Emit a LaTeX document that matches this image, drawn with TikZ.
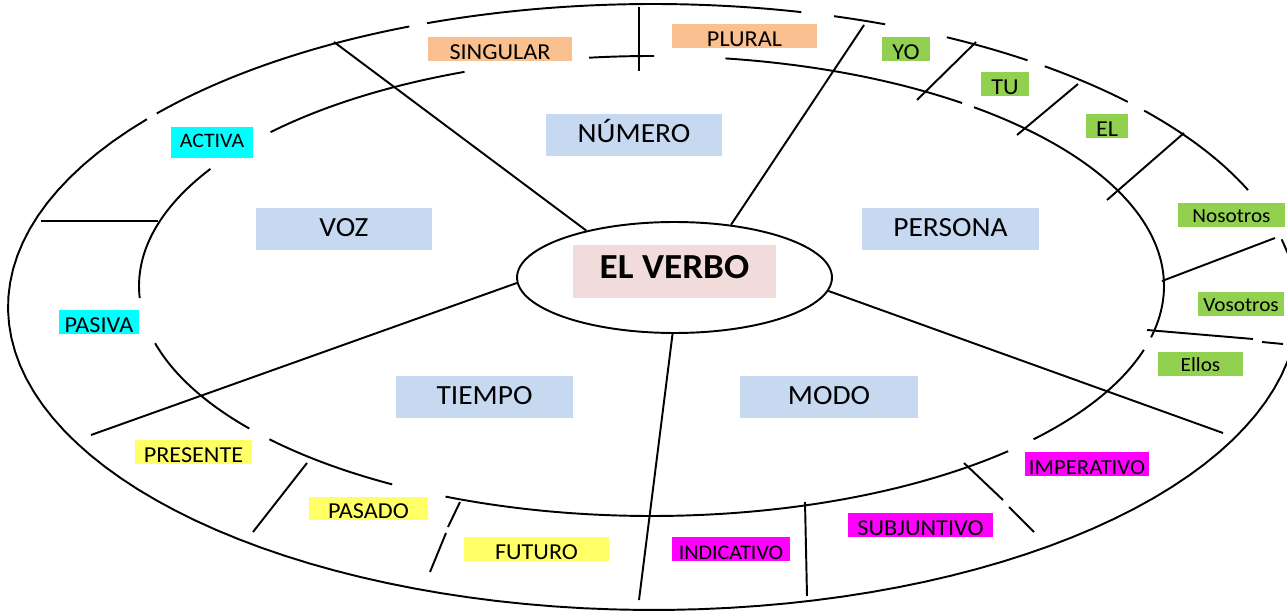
\documentclass[tikz,border=0pt]{standalone}
\usepackage{fontspec}
\setmainfont{Carlito}[FakeStretch=1.06]
\usetikzlibrary{shapes.geometric}
\definecolor{catblue}{HTML}{C6D9F0}
\definecolor{titlepink}{HTML}{F2DCDB}
\definecolor{orng}{HTML}{FAC090}
\definecolor{grn}{HTML}{92D050}
\definecolor{cyn}{HTML}{00FFFF}
\definecolor{yllw}{HTML}{FFFF66}
\definecolor{mgnt}{HTML}{FF00FF}

\begin{document}
\begin{tikzpicture}[x=0.02cm,y=-0.02cm,line width=1.1pt,
  cat/.style={fill=catblue,inner xsep=0pt,inner ysep=0pt,
    text height=15.9pt,text depth=7.9pt,font=\fontsize{15.8}{17}\selectfont},
  sub/.style={fill=#1,inner xsep=0pt,inner ysep=0pt,
    text height=12.75pt,text depth=0.85pt,font=\fontsize{13}{15}\selectfont},
  low/.style={fill=grn,inner xsep=0pt,inner ysep=0pt,
    text height=11.3pt,text depth=2.3pt,font=\fontsize{11.4}{14}\selectfont}]
\useasboundingbox (0,0) rectangle (1287,611);
  % outer ring, broken pieces
  \foreach \a/\b in {-12.9/218.3,219.7/247.8,249.5/283.3,286.3/291.1,
                     297.1/305.5,307.4/317.4,319.6/337.3}{
    \draw plot[domain=\a:\b,samples=90] ({653+645*cos(\x)},{307+303*sin(\x)});}
  % middle ring, broken pieces
  \foreach \a/\b in {-51/12.9,16.1/41.8,45.9/113.7,120.4/138.2,141.7/165.6,
                     177/210.6,222/248.6,263/270.3,278.3/307.3}{
    \draw plot[domain=\a:\b,samples=90] ({651.5+512.5*cos(\x)},{286+230*sin(\x)});}
  % centre
  \node[draw,ellipse,minimum width=6.3cm,minimum height=2.22cm,inner sep=0pt]
    (verbo) at (674.5,277.5) {};
  \node[fill=titlepink,inner xsep=0pt,inner ysep=0pt,minimum width=4.06cm,
    text height=19.3pt,text depth=10.8pt,font=\fontsize{20}{22}\bfseries]
    (title) at (674.5,271.5) {EL VERBO};
  % spokes
  \coordinate (nw) at (334,42);
  \coordinate (ne) at (864,25);
  \coordinate (w)  at (91,435);
  \coordinate (s)  at (639,600);
  \coordinate (se) at (1223,433);
  \draw (verbo.152) -- (nw);
  \draw (verbo.43)  -- (ne);
  \draw (verbo.182) -- (w);
  \draw (verbo.268) -- (s);
  \draw (verbo.355) -- (se);
  % dividers in the outer ring
  \draw (639,7) -- (639,71);
  \draw (976,42) -- (917,100);
  \draw (1078,84) -- (1017,135);
  \draw (1184,133) -- (1107,200);
  \draw (1275,238) -- (1162,281);
  \draw (1147,330) -- (1253,339) (1262,342) -- (1283,344);
  \draw (964,463) -- (1003,500) (1009,507) -- (1034,532);
  \draw (805,502) -- (807,596);
  \draw (460,502) -- (448,527) (446,533) -- (430,572);
  \draw (307,463) -- (253,532);
  \draw (41,221) -- (158,221);
  % categories
  \node[cat,minimum width=3.52cm] (voz) at (344,229) {VOZ};
  \node[cat,minimum width=3.52cm] (numero) at (634,135) {NÚMERO};
  \node[cat,minimum width=3.54cm] (persona) at (950.5,229) {PERSONA};
  \node[cat,minimum width=3.54cm] (tiempo) at (484.5,397) {TIEMPO};
  \node[cat,minimum width=3.56cm] (modo) at (829,397) {MODO};
  % sub labels
  \node[sub=orng,minimum width=2.88cm] (singular) at (500,49) {SINGULAR};
  \node[sub=orng,minimum width=2.9cm] (plural) at (744.5,36) {PLURAL};
  \node[sub=grn,minimum width=0.96cm] (yo) at (906,49) {YO};
  \node[sub=grn,minimum width=0.96cm] (tu) at (1005,84) {TU};
  \node[sub=grn,minimum width=0.84cm] (el) at (1107,126) {EL};
  \node[low,minimum width=2.14cm] (nosotros) at (1231.5,215) {Nosotros};
  \node[low,minimum width=1.72cm] (vosotros) at (1241,304) {Vosotros};
  \node[low,minimum width=1.7cm] (ellos) at (1200.5,364) {Ellos};
  \node[sub=mgnt,minimum width=2.48cm,font=\fontsize{12.2}{15}\selectfont]
    (imperativo) at (1087,464) {IMPERATIVO};
  \node[sub=mgnt,minimum width=2.9cm] (subjuntivo) at (920.5,525) {SUBJUNTIVO};
  \node[sub=mgnt,minimum width=2.36cm,font=\fontsize{11.8}{15}\selectfont]
    (indicativo) at (731,549) {INDICATIVO};
  \node[sub=yllw,minimum width=2.9cm] (futuro) at (536.5,549) {FUTURO};
  \node[sub=yllw,minimum width=2.38cm] (pasado) at (368.5,508.5) {PASADO};
  \node[sub=yllw,minimum width=2.34cm] (presente) at (193.5,452) {PRESENTE};
  \node[sub=cyn,minimum width=1.6cm] (pasiva) at (99,322) {PASIVA};
  \node[sub=cyn,minimum width=1.64cm,text height=11.9pt,text depth=5.67pt,
    font=\fontsize{11.7}{15}\selectfont] (activa) at (212,142.5) {ACTIVA};
\end{tikzpicture}
\end{document}
